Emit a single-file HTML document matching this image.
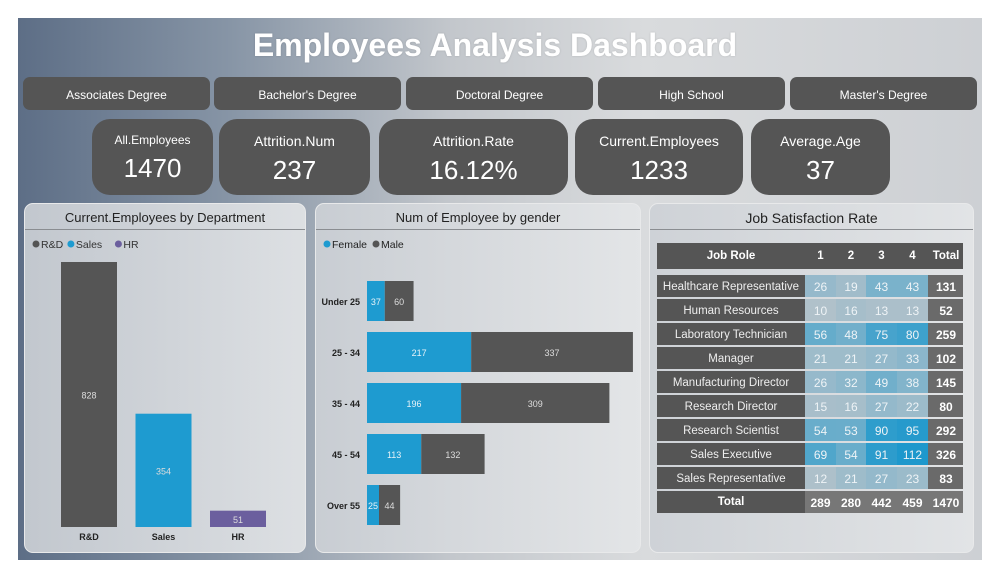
<!DOCTYPE html>
<html><head><meta charset="utf-8">
<style>
*{box-sizing:border-box;margin:0;padding:0}
body{width:1000px;height:578px;background:#fff;font-family:"Liberation Sans","DejaVu Sans",sans-serif;position:relative;overflow:hidden}
#frame{position:absolute;left:18px;top:18px;width:964px;height:542px;background:linear-gradient(90deg,#5d6e86 0%,#8795a6 22%,#c3c7cc 45%,#d9dbdd 65%,#cdd0d4 100%)}
.abs{position:absolute}
.title{left:0;width:990px;top:27px;text-align:center;color:#fff;font-weight:bold;font-size:32px;text-shadow:0 0 2px rgba(0,0,0,.15)}
.slicer{top:77px;height:33px;background:#555;border-radius:7px;color:#fff;font-size:12px;text-align:center;line-height:36px}
.kpi{top:119px;height:76px;background:#555;border-radius:18px;color:#fff;text-align:center}
.kpi .l{font-size:14px;margin-top:14px}
.kpi .v{font-size:26px;margin-top:6px}
.panel{top:203px;height:350px;background:linear-gradient(90deg,rgba(205,209,214,.9),rgba(228,230,232,.9));border-radius:9px;border:1px solid #e8e9ea}
.ph{position:absolute;left:0;right:0;top:0;height:26px;border-bottom:1.5px solid #8a8d91;text-align:center;font-size:13px;line-height:28px;color:#222}
svg text{font-family:"Liberation Sans","DejaVu Sans",sans-serif}
</style></head><body>
<div id="frame"></div>
<div class="abs title">Employees Analysis Dashboard</div>

<div class="abs slicer" style="left:23px;width:187px">Associates Degree</div>
<div class="abs slicer" style="left:214px;width:187px">Bachelor's Degree</div>
<div class="abs slicer" style="left:406px;width:187px">Doctoral Degree</div>
<div class="abs slicer" style="left:598px;width:187px">High School</div>
<div class="abs slicer" style="left:790px;width:187px">Master's Degree</div>

<div class="abs kpi" style="left:92px;width:121px"><div class="l" style="font-size:12px">All.Employees</div><div class="v">1470</div></div>
<div class="abs kpi" style="left:219px;width:151px"><div class="l">Attrition.Num</div><div class="v">237</div></div>
<div class="abs kpi" style="left:379px;width:189px"><div class="l">Attrition.Rate</div><div class="v">16.12%</div></div>
<div class="abs kpi" style="left:575px;width:168px"><div class="l">Current.Employees</div><div class="v">1233</div></div>
<div class="abs kpi" style="left:751px;width:139px"><div class="l">Average.Age</div><div class="v">37</div></div>

<div class="abs panel" style="left:24px;width:282px"><div class="ph">Current.Employees by Department</div></div>
<div class="abs panel" style="left:315px;width:326px"><div class="ph">Num of Employee by gender</div></div>
<div class="abs panel" style="left:649px;width:325px"><div class="ph" style="font-size:14px">Job Satisfaction Rate</div></div>

<svg id="svg" class="abs" style="left:0;top:0" width="1000" height="578" xmlns="http://www.w3.org/2000/svg"></svg>

<script>
const deptCats=["R&D","Sales","HR"];
const deptVals=[828,354,51];
const deptColors=["#555555","#1e9bd0","#6b5f9e"];

const ageCats=["Under 25","25 - 34","35 - 44","45 - 54","Over 55"];
const femaleVals=[37,217,196,113,25];
const maleVals=[60,337,309,132,44];

const roles=["Healthcare Representative","Human Resources","Laboratory Technician","Manager","Manufacturing Director","Research Director","Research Scientist","Sales Executive","Sales Representative"];
const sat1=[26,10,56,21,26,15,54,69,12];
const sat2=[19,16,48,21,32,16,53,54,21];
const sat3=[43,13,75,27,49,27,90,91,27];
const sat4=[43,13,80,33,38,22,95,112,23];
const satCols=["1","2","3","4"];

const NS="http://www.w3.org/2000/svg";
const svg=document.getElementById('svg');
function mk(tag,attrs,parent){const e=document.createElementNS(NS,tag);for(const k in attrs)e.setAttribute(k,attrs[k]);(parent||svg).appendChild(e);return e;}
function txt(x,y,s,attrs,parent){const t=mk('text',Object.assign({x:x,y:y},attrs),parent);t.textContent=s;return t;}

// ---- Department bar chart ----
const dBase=527, dTop=262, dMax=828;
const yD=v=>dBase-(v/dMax)*(dBase-dTop);
const xD=i=>61+i*74.5;
const gl=mk('g',{});


let lx=36;
deptCats.forEach((c,i)=>{
  mk('circle',{cx:lx,cy:244,r:3.5,fill:deptColors[i]},gl);
  txt(lx+5,248,c,{'font-size':10.5,fill:'#333'},gl);
  lx+= c.length*6.3+16;
});
deptCats.forEach((c,i)=>{
  const r=mk('rect',{x:xD(i),y:yD(deptVals[i]),width:56,height:dBase-yD(deptVals[i]),fill:deptColors[i]});
  
  
  txt(xD(i)+28,(yD(deptVals[i])+dBase)/2+4,String(deptVals[i]),{'font-size':9,fill:'#ddd','text-anchor':'middle'});
  const l=txt(xD(i)+28,540,c,{'font-size':9,'font-weight':'bold',fill:'#222','text-anchor':'middle'});
  
  
});

// ---- Gender stacked bar ----
const gx0=367, gScale=0.48;
const xG=v=>gx0+v*gScale;
const yG=i=>281+i*51;
const gl2=mk('g',{});


mk('circle',{cx:327,cy:244,r:3.5,fill:'#1e9bd0'},gl2);
txt(332,248,'Female',{'font-size':10.5,fill:'#222'},gl2);
mk('circle',{cx:376,cy:244,r:3.5,fill:'#555'},gl2);
txt(381,248,'Male',{'font-size':10.5,fill:'#222'},gl2);
ageCats.forEach((c,i)=>{
  const y=yG(i);
  const f=mk('rect',{x:gx0,y:y,width:xG(femaleVals[i])-gx0,height:40,fill:'#1e9bd0'});
  
  
  const m=mk('rect',{x:xG(femaleVals[i]),y:y,width:xG(femaleVals[i]+maleVals[i])-xG(femaleVals[i]),height:40,fill:'#555'});
  
  
  txt((gx0+xG(femaleVals[i]))/2,y+24,String(femaleVals[i]),{'font-size':9,fill:'#e6f2f8','text-anchor':'middle'});
  txt((xG(femaleVals[i])+xG(femaleVals[i]+maleVals[i]))/2,y+24,String(maleVals[i]),{'font-size':9,fill:'#ddd','text-anchor':'middle'});
  const l=txt(360,y+24,c,{'font-size':9,'font-weight':'bold',fill:'#222','text-anchor':'end'});
  
  
});

// ---- Job satisfaction table ----
const colX=[805,836,866,897,928];
const colW=[31,30,31,31,35];
const heat=v=>{const t=Math.min(1,v/100);const a=[192,197,202],b=[30,152,204];return 'rgb('+a.map((c,k)=>Math.round(c+(b[k]-c)*t)).join(',')+')';};
mk('rect',{x:657,y:243,width:306,height:26,fill:'#555'});
txt(731,259,'Job Role',{'font-size':11.5,'font-weight':'bold',fill:'#fff','text-anchor':'middle'});
satCols.forEach((c,j)=>txt(colX[j]+colW[j]/2,259,c,{'font-size':11.5,'font-weight':'bold',fill:'#fff','text-anchor':'middle'}));
txt(946,259,'Total',{'font-size':11.5,'font-weight':'bold',fill:'#fff','text-anchor':'middle'});
const sats=[sat1,sat2,sat3,sat4];
roles.forEach((r,i)=>{
  const y=275+i*24;
  const row=mk('g',{});
  
  
  mk('rect',{x:657,y:y,width:148,height:22,fill:'#555'},row);
  txt(731,y+15,r,{'font-size':11.5,fill:'#eee','text-anchor':'middle'},row);
  let tot=0;
  sats.forEach((s,j)=>{
    tot+=s[i];
    mk('rect',{x:colX[j],y:y,width:colW[j],height:22,fill:heat(s[i])},row);
    txt(colX[j]+colW[j]/2,y+16,String(s[i]),{'font-size':12,fill:'#eef3f6','text-anchor':'middle'},row);
  });
  mk('rect',{x:928,y:y,width:35,height:22,fill:'#6a6a6a'},row);
  txt(946,y+16,String(tot),{'font-size':12,'font-weight':'bold',fill:'#fff','text-anchor':'middle'},row);
});
const ty=491;
mk('rect',{x:657,y:ty,width:148,height:22,fill:'#555'});
mk('rect',{x:805,y:ty,width:158,height:22,fill:'#777'});
txt(731,ty+14,'Total',{'font-size':11.5,'font-weight':'bold',fill:'#fff','text-anchor':'middle'});
let grand=0;
sats.forEach((s,j)=>{const t=s.reduce((a,b)=>a+b,0);grand+=t;txt(colX[j]+colW[j]/2,ty+16,String(t),{'font-size':12,'font-weight':'bold',fill:'#fff','text-anchor':'middle'});});
txt(946,ty+16,String(grand),{'font-size':12,'font-weight':'bold',fill:'#fff','text-anchor':'middle'});
</script>
</body></html>
